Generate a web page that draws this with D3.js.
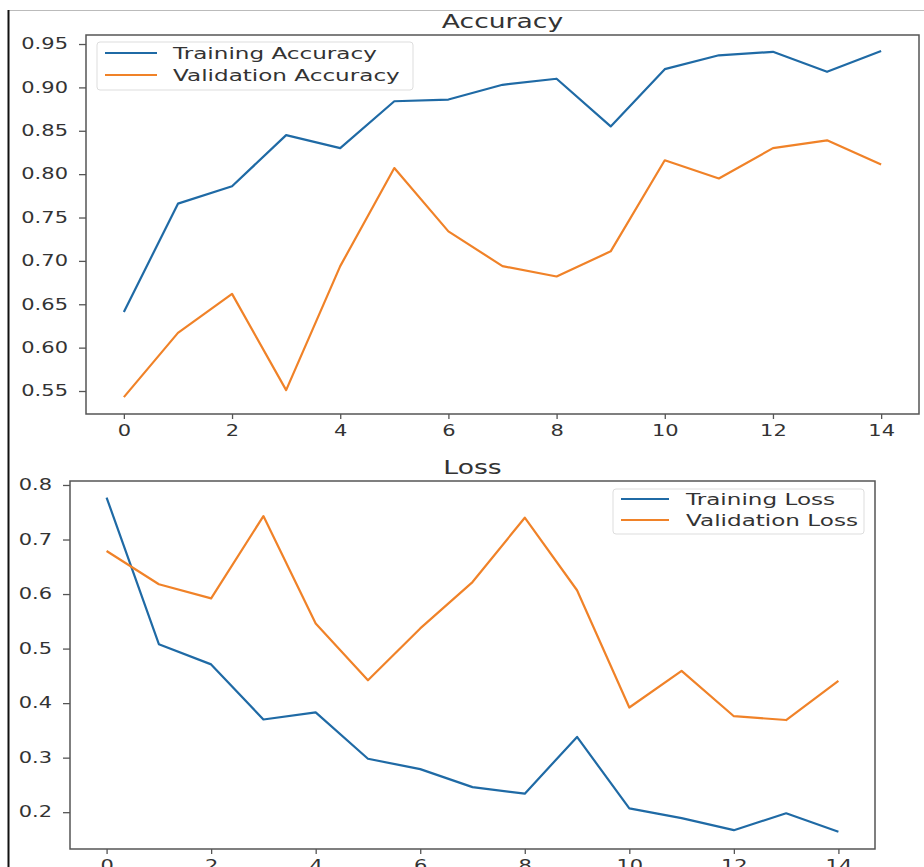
<!DOCTYPE html>
<html>
<head>
<meta charset="utf-8">
<script src="https://cdn.jsdelivr.net/npm/d3@7"></script>
<style>
  body { margin: 0; background: white; }
  text { font-family: "DejaVu Sans", sans-serif; fill: #333; }
</style>
</head>
<body>
<div id="chart"></div>
<script>
// Data
const epochs = [0, 1, 2, 3, 4, 5, 6, 7, 8, 9, 10, 11, 12, 13, 14];
const trainAcc = [0.641, 0.766, 0.786, 0.845, 0.830, 0.884, 0.886, 0.903, 0.910, 0.855, 0.921, 0.937, 0.941, 0.918, 0.942];
const valAcc = [0.543, 0.617, 0.662, 0.551, 0.694, 0.807, 0.734, 0.694, 0.682, 0.711, 0.816, 0.795, 0.830, 0.839, 0.811];
const trainLoss = [0.777, 0.508, 0.471, 0.370, 0.383, 0.298, 0.279, 0.246, 0.234, 0.338, 0.207, 0.189, 0.167, 0.198, 0.164];
const valLoss = [0.679, 0.618, 0.592, 0.743, 0.546, 0.442, 0.537, 0.622, 0.740, 0.607, 0.392, 0.459, 0.376, 0.369, 0.441];

const xTicks = [0, 2, 4, 6, 8, 10, 12, 14];
const accTicks = [0.55, 0.60, 0.65, 0.70, 0.75, 0.80, 0.85, 0.90, 0.95];
const lossTicks = [0.2, 0.3, 0.4, 0.5, 0.6, 0.7, 0.8];

const blue = "#1f6aa5", orange = "#f08228";
const SX = 1.4; // picture is stretched sideways, so is the text

const svg = d3.select("#chart")
    .append("svg")
    .attr("width", 924)
    .attr("height", 867)
    .style("background-color", "white");

// thin frame of the screenshot
svg.append("line").attr("x1", 8).attr("x2", 924).attr("y1", 10.5).attr("y2", 10.5)
    .attr("stroke", "#bbb").attr("stroke-width", 1);
svg.append("line").attr("x1", 8.5).attr("x2", 8.5).attr("y1", 10).attr("y2", 867)
    .attr("stroke", "#111").attr("stroke-width", 2);

function panel(p) {
    const g = svg.append("g");

    const x = d3.scaleLinear().domain([-0.7, 14.7]).range([p.left, p.right]);
    const y = d3.scaleLinear().domain(p.yDomain).range([p.bottom, p.top]);

    // x axis
    const xa = g.append("g")
        .attr("transform", `translate(0,${p.bottom})`)
        .call(d3.axisBottom(x).tickValues(xTicks).tickSize(5).tickPadding(6).tickFormat(d3.format("d")));
    // y axis
    const ya = g.append("g")
        .attr("transform", `translate(${p.left},0)`)
        .call(d3.axisLeft(y).tickValues(p.yTicks).tickSize(7).tickPadding(11).tickFormat(d3.format(p.fmt)));

    [xa, ya].forEach(a => {
        a.select(".domain").remove();
        a.selectAll("line").attr("stroke", "#555").attr("stroke-width", 1.3);
        a.selectAll("text").style("font-size", "15px").attr("fill", "#2a2a2a");
    });
    ya.selectAll("text").each(function () {
        const t = d3.select(this);
        t.attr("x", +t.attr("x") / SX).attr("transform", `scale(${SX},1)`);
    });
    xa.selectAll("text").attr("transform", `scale(${SX},1)`);

    // lines
    const line = vals => d3.line()
        .x((d, i) => x(epochs[i]))
        .y(d => y(d))(vals);

    p.series.forEach(s => {
        g.append("path")
            .attr("d", line(s.values))
            .attr("fill", "none")
            .attr("stroke", s.color)
            .attr("stroke-width", 2.2)
            .attr("stroke-linejoin", "round");
    });

    // frame of the axes
    g.append("rect")
        .attr("x", p.left).attr("y", p.top)
        .attr("width", p.right - p.left).attr("height", p.bottom - p.top)
        .attr("fill", "none").attr("stroke", "#555").attr("stroke-width", 1.5);

    // title
    g.append("text")
        .attr("transform", `translate(${(p.left + p.right) / 2},${p.top - 7}) scale(${SX},1)`)
        .attr("text-anchor", "middle")
        .style("font-size", "19px")
        .text(p.title);

    // legend
    const lg = p.legend;
    g.append("rect")
        .attr("x", lg.x).attr("y", lg.y).attr("width", lg.w).attr("height", lg.h)
        .attr("rx", 3)
        .attr("fill", "white").attr("fill-opacity", 0.8)
        .attr("stroke", "#ddd");
    p.series.forEach((s, i) => {
        const ly = lg.y + lg.first + i * lg.step;
        g.append("line")
            .attr("x1", lg.x + 8).attr("x2", lg.x + 8 + lg.len)
            .attr("y1", ly).attr("y2", ly)
            .attr("stroke", s.color).attr("stroke-width", 2);
        g.append("text")
            .attr("transform", `translate(${lg.x + lg.textX},${ly + 6}) scale(${SX},1)`)
            .style("font-size", "16.5px")
            .text(s.name);
    });
}

panel({
    left: 86, right: 919, top: 35, bottom: 414,
    yDomain: [0.5235, 0.9604], yTicks: accTicks, fmt: ".2f",
    title: "Accuracy",
    series: [
        { name: "Training Accuracy", values: trainAcc, color: blue },
        { name: "Validation Accuracy", values: valAcc, color: orange }
    ],
    legend: { x: 97, y: 42, w: 316, h: 48, first: 11, step: 22, len: 52, textX: 76 }
});

panel({
    left: 70, right: 875, top: 481, bottom: 849,
    yDomain: [0.1325, 0.8073], yTicks: lossTicks, fmt: ".1f",
    title: "Loss",
    series: [
        { name: "Training Loss", values: trainLoss, color: blue },
        { name: "Validation Loss", values: valLoss, color: orange }
    ],
    legend: { x: 613, y: 489, w: 251, h: 45, first: 10, step: 21, len: 48, textX: 73 }
});
</script>
</body>
</html>
